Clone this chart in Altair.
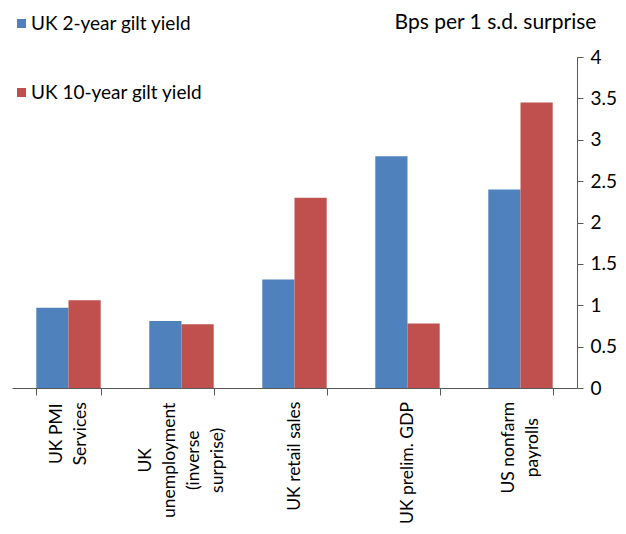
import altair as alt
import pandas as pd

# ---- data ----
categories = [
    "UK PMI|Services",
    "UK|unemployment|(inverse|surprise)",
    "UK retail sales",
    "UK prelim. GDP",
    "US nonfarm|payrolls",
]
series = ["UK 2-year gilt yield", "UK 10-year gilt yield"]
two_year = [0.97, 0.81, 1.31, 2.80, 2.40]
ten_year = [1.06, 0.77, 2.30, 0.78, 3.45]
y_ticks = [0, 0.5, 1, 1.5, 2, 2.5, 3, 3.5, 4]
y_title = "Bps per 1 s.d. surprise"

# ---- styles ----
colors = ["#4F81BD", "#C0504D"]
FONT = "Lato"
FS = 19
XLABEL_FS = 17.5
LINE_H = 24
AXIS_COLOR = "#595959"

rows = []
for c, a, b in zip(categories, two_year, ten_year):
    rows.append({"cat": c, "series": series[0], "value": a})
    rows.append({"cat": c, "series": series[1], "value": b})
df = pd.DataFrame(rows)

# approximate glyph advance widths (em) for Lato, used to place rotated multi-line labels
W = {c: 0.52 for c in "abcdefghijklmnopqrstuvwxyz"}
W.update({"a": .49, "b": .56, "c": .46, "d": .56, "e": .52, "f": .32, "g": .50, "h": .56,
          "i": .24, "j": .24, "k": .50, "l": .24, "m": .84, "n": .56, "o": .56, "p": .55,
          "r": .37, "s": .42, "t": .35, "u": .56, "v": .51, "w": .77, "y": .51,
          " ": .26, ".": .22, "(": .30, ")": .30, "-": .32,
          "U": .69, "K": .63, "P": .60, "M": .87, "I": .27, "S": .52, "G": .74, "D": .75})


def text_w(s):
    return sum(W.get(ch, 0.6) for ch in s) * XLABEL_FS


pads = {c: round(7 + max(text_w(l) for l in c.split("|")) / 2, 1) for c in categories}
pad_expr = " : ".join(f"datum.value === '{c}' ? {p}" for c, p in pads.items()) + " : 40"
offset_expr = f"-(length(split(datum.value, '|')) - 1) * {LINE_H / 2}"

bars = alt.Chart(df).mark_bar().encode(
    x=alt.X(
        "cat:N",
        sort=categories,
        scale=alt.Scale(paddingInner=0.43, paddingOuter=0.215),
        axis=alt.Axis(
            title=None,
            orient="bottom",
            tickBand="extent",
            labelAngle=270,
            labelAlign="center",
            labelBaseline="middle",
            labelExpr="split(datum.label, '|')",
            labelPadding=alt.ExprRef(pad_expr),
            labelOffset=alt.ExprRef(offset_expr),
            labelFont=FONT,
            labelFontSize=XLABEL_FS,
            labelLineHeight=LINE_H,
            labelColor="black",
            labelLimit=0,
            tickSize=7,
            tickColor=AXIS_COLOR,
            domainColor=AXIS_COLOR,
        ),
    ),
    xOffset=alt.XOffset("series:N", sort=series, scale=alt.Scale(paddingInner=0, paddingOuter=0)),
    y=alt.Y(
        "value:Q",
        scale=alt.Scale(domain=[0, 4], nice=False),
        axis=alt.Axis(
            orient="right",
            values=y_ticks,
            format="~g",
            grid=False,
            title=y_title,
            titleAngle=0,
            titleX=-82,
            titleY=-35,
            titleAlign="center",
            titleBaseline="middle",
            titleFont=FONT,
            titleFontSize=21,
            titleFontWeight="normal",
            titleColor="black",
            labelFont=FONT,
            labelFontSize=FS,
            labelColor="black",
            labelPadding=7,
            tickSize=6,
            tickColor=AXIS_COLOR,
            domainColor=AXIS_COLOR,
        ),
    ),
    color=alt.Color(
        "series:N",
        sort=series,
        scale=alt.Scale(domain=series, range=colors),
        legend=alt.Legend(
            title=None,
            orient="none",
            legendX=0,
            legendY=-43,
            direction="vertical",
            symbolType="square",
            symbolSize=81,
            symbolStrokeWidth=0,
            labelFont=FONT,
            labelFontSize=FS,
            labelColor="black",
            labelOffset=0,
            labelLimit=0,
            rowPadding=49,
            padding=0,
        ),
    ),
)

chart = bars.properties(
    width=565,
    height=331,
    autosize=alt.AutoSizeParams(type="none"),
    padding={"left": 4, "top": 49, "right": 41, "bottom": 138},
    background="white",
).configure_view(stroke=None)

chart.save("out.html", embed_options={"renderer": "svg", "actions": False})
